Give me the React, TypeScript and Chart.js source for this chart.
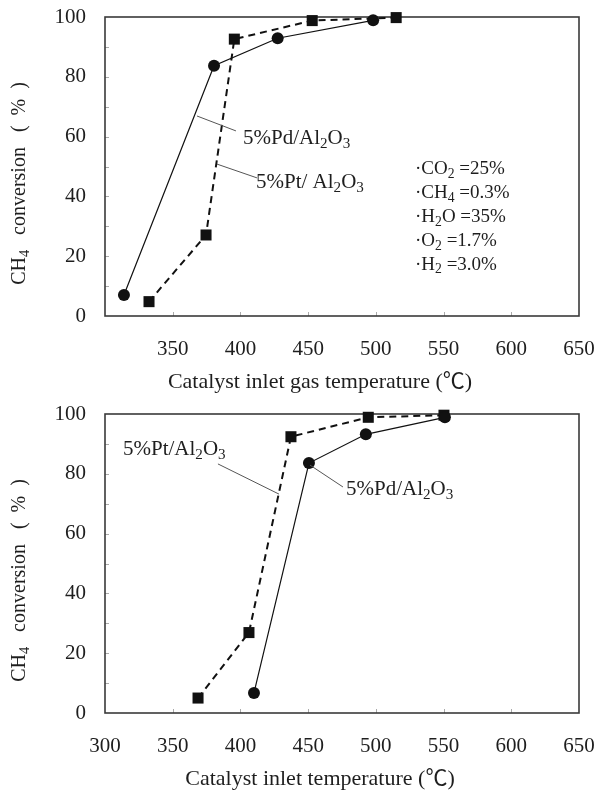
import React, { useEffect, useRef } from 'react';
import { Chart, registerables } from 'chart.js';
Chart.register(...registerables);

// ---------- data ----------
const tempTicks = [300, 350, 400, 450, 500, 550, 600, 650];
const convTicks = [0, 20, 40, 60, 80, 100];
const topHiddenTick = 300;

// Top: catalyst inlet gas temperature
const gasTempPd = [314, 380.5, 427.5, 498];
const gasConvPd = [7, 83.7, 92.9, 98.9];
const gasTempPt = [332.5, 374.6, 395.5, 453, 515];
const gasConvPt = [4.8, 27.1, 92.6, 98.8, 99.8];

// Bottom: catalyst inlet temperature
const inTempPt = [368.7, 406.3, 437.3, 494.4, 550.3];
const inConvPt = [5, 26.9, 92.4, 98.9, 99.6];
const inTempPd = [410, 450.6, 492.6, 551];
const inConvPd = [6.7, 83.6, 93.2, 98.9];

const gasLines = ['·CO_2 =25%', '·CH_4 =0.3%', '·H_2O =35%', '·O_2 =1.7%', '·H_2 =3.0%'];

const FAMILY = '"Liberation Serif", "Noto Sans CJK JP", "DejaVu Sans", serif';
const INK = '#1e1e1e';

type Seg = { t: string; sub: boolean };
function parseRich(s: string): Seg[] {
  const out: Seg[] = [];
  let buf = '';
  for (let i = 0; i < s.length; i++) {
    if (s[i] === '_' && i + 1 < s.length) {
      if (buf) { out.push({ t: buf, sub: false }); buf = ''; }
      out.push({ t: s[i + 1], sub: true });
      i++;
    } else buf += s[i];
  }
  if (buf) out.push({ t: buf, sub: false });
  return out;
}
function segFont(size: number, sub: boolean) {
  return `${sub ? size * 0.72 : size}px ${FAMILY}`;
}
function richWidth(ctx: CanvasRenderingContext2D, segs: Seg[], size: number) {
  let w = 0;
  for (const g of segs) { ctx.font = segFont(size, g.sub); w += ctx.measureText(g.t).width; }
  return w;
}
function drawRich(ctx: CanvasRenderingContext2D, s: string, x: number, y: number, size: number, align: 'left' | 'center') {
  const segs = parseRich(s);
  const w = richWidth(ctx, segs, size);
  let cx = align === 'center' ? x - w / 2 : x;
  ctx.textAlign = 'left';
  ctx.textBaseline = 'alphabetic';
  for (const g of segs) {
    ctx.font = segFont(size, g.sub);
    ctx.fillText(g.t, cx, g.sub ? y + size * 0.2 : y);
    cx += ctx.measureText(g.t).width;
  }
}

type Label = { text: string; x: number; y: number };
type Leader = [number, number, number, number];
type Deco = {
  xTitle: string;
  labels: Label[];
  leaders: Leader[];
  gas?: { x: number; y: number; step: number };
};

const decoPlugin = {
  id: 'deco',
  beforeDatasetsDraw(chart: any) {
    const { ctx, chartArea: a, scales } = chart;
    const sx = scales.x, sy = scales.y;
    ctx.save();
    ctx.strokeStyle = '#aaaaaa';
    ctx.lineWidth = 1;
    for (let v = 350; v < 650; v += 50) {
      const px = Math.round(sx.getPixelForValue(v)) + 0.5;
      ctx.beginPath(); ctx.moveTo(px, a.bottom); ctx.lineTo(px, a.bottom - 4); ctx.stroke();
    }
    for (let v = 10; v < 100; v += 10) {
      const py = Math.round(sy.getPixelForValue(v)) + 0.5;
      ctx.beginPath(); ctx.moveTo(a.left, py); ctx.lineTo(a.left + 4, py); ctx.stroke();
    }
    ctx.strokeStyle = '#3a3a3a';
    ctx.lineWidth = 1.6;
    ctx.strokeRect(a.left, a.top, a.right - a.left, a.bottom - a.top);
    ctx.restore();
  },
  afterDraw(chart: any, _args: any, opts: Deco) {
    const { ctx, chartArea: a, scales } = chart;
    const sx = scales.x, sy = scales.y;
    ctx.save();
    ctx.fillStyle = INK;
    ctx.save();
    ctx.translate(18, (a.top + a.bottom) / 2 + 17);
    ctx.rotate(-Math.PI / 2);
    drawRich(ctx, 'CH_4   conversion   (  %  )', 0, 7, 20, 'center');
    ctx.restore();
    drawRich(ctx, opts.xTitle, 320, 388, 22, 'center');
    ctx.strokeStyle = '#555555';
    ctx.lineWidth = 1;
    for (const [x1, y1, x2, y2] of opts.leaders) {
      ctx.beginPath();
      ctx.moveTo(sx.getPixelForValue(x1), sy.getPixelForValue(y1));
      ctx.lineTo(sx.getPixelForValue(x2), sy.getPixelForValue(y2));
      ctx.stroke();
    }
    for (const l of opts.labels) {
      drawRich(ctx, l.text, sx.getPixelForValue(l.x), sy.getPixelForValue(l.y), 21, 'left');
    }
    if (opts.gas) {
      gasLines.forEach((t, i) => {
        drawRich(ctx, t, sx.getPixelForValue(opts.gas!.x), sy.getPixelForValue(opts.gas!.y - i * opts.gas!.step), 19, 'left');
      });
    }
    ctx.restore();
  },
};

function makeConfig(
  pdT: number[], pdC: number[], ptT: number[], ptC: number[],
  hideTick: number | null, deco: Deco, height: number
): any {
  return {
    type: 'line',
    data: {
      datasets: [
        {
          label: '5%Pd/Al2O3',
          data: pdT.map((x, i) => ({ x, y: pdC[i] })),
          borderColor: '#111',
          borderWidth: 1.2,
          pointStyle: 'circle',
          pointRadius: 6,
          pointBackgroundColor: '#111',
          pointBorderWidth: 0,
          clip: false,
          tension: 0,
        },
        {
          label: '5%Pt/Al2O3',
          data: ptT.map((x, i) => ({ x, y: ptC[i] })),
          borderColor: '#111',
          borderWidth: 2,
          borderDash: [7, 5],
          pointStyle: 'rect',
          pointRadius: 7.8,
          pointBackgroundColor: '#111',
          pointBorderWidth: 0,
          clip: false,
          tension: 0,
        },
      ],
    },
    options: {
      responsive: false,
      animation: false,
      devicePixelRatio: 1,
      layout: { padding: { left: 0, right: 22, top: 17, bottom: 0 } },
      plugins: { legend: { display: false }, tooltip: { enabled: false }, deco },
      scales: {
        x: {
          type: 'linear',
          min: tempTicks[0],
          max: tempTicks[tempTicks.length - 1],
          afterBuildTicks: (s: any) => { s.ticks = tempTicks.map((v) => ({ value: v })); },
          afterFit: (s: any) => {
            s.height = height - 316;
            s.paddingLeft = 0; s.paddingRight = 0; s.paddingTop = 0; s.paddingBottom = 0;
          },
          grid: { display: false, drawTicks: false },
          border: { display: false },
          ticks: {
            padding: 21,
            color: INK,
            font: { family: FAMILY, size: 21 },
            maxRotation: 0,
            autoSkip: false,
            callback: (v: number) => (v === hideTick ? '' : String(v)),
          },
        },
        y: {
          type: 'linear',
          min: convTicks[0],
          max: convTicks[convTicks.length - 1],
          afterBuildTicks: (s: any) => { s.ticks = convTicks.map((v) => ({ value: v })); },
          afterFit: (s: any) => {
            s.width = 105;
            s.paddingLeft = 0; s.paddingRight = 0; s.paddingTop = 0; s.paddingBottom = 0;
          },
          grid: { display: false, drawTicks: false },
          border: { display: false },
          ticks: {
            padding: 19,
            color: INK,
            font: { family: FAMILY, size: 21 },
            callback: (v: number) => String(v),
          },
        },
      },
    },
    plugins: [decoPlugin],
  };
}

function ChartBox(props: { cfg: () => any; top: number; height: number }) {
  const ref = useRef<HTMLCanvasElement>(null);
  useEffect(() => {
    if (!ref.current) return;
    const c = new Chart(ref.current, props.cfg());
    return () => c.destroy();
  }, []);
  return (
    <canvas
      ref={ref}
      width={601}
      height={props.height}
      style={{ position: 'absolute', left: 0, top: props.top, width: 601, height: props.height }}
    />
  );
}

export default function App() {
  return (
    <div style={{ position: 'absolute', left: 0, top: 0, width: 601, height: 792, background: '#fff', overflow: 'hidden' }}>
      <ChartBox
        top={0}
        height={396}
        cfg={() =>
          makeConfig(gasTempPd, gasConvPd, gasTempPt, gasConvPt, topHiddenTick, {
            xTitle: 'Catalyst inlet gas temperature (℃)',
            labels: [
              { text: '5%Pd/Al_2O_3', x: 401.9, y: 57.5 },
              { text: '5%Pt/ Al_2O_3', x: 411.5, y: 42.8 },
            ],
            leaders: [
              [367.9, 66.9, 396.7, 61.9],
              [382.7, 50.8, 412.2, 46.2],
            ],
            gas: { x: 528.9, y: 47.5, step: 8 },
          }, 396)
        }
      />
      <ChartBox
        top={397}
        height={395}
        cfg={() =>
          makeConfig(inTempPd, inConvPd, inTempPt, inConvPt, null, {
            xTitle: 'Catalyst inlet temperature (℃)',
            labels: [
              { text: '5%Pt/Al_2O_3', x: 313.3, y: 86.3 },
              { text: '5%Pd/Al_2O_3', x: 478, y: 72.9 },
            ],
            leaders: [
              [383.4, 83.3, 428.5, 73.2],
              [451.4, 82.9, 475.7, 75.6],
            ],
          }, 395)
        }
      />
    </div>
  );
}
